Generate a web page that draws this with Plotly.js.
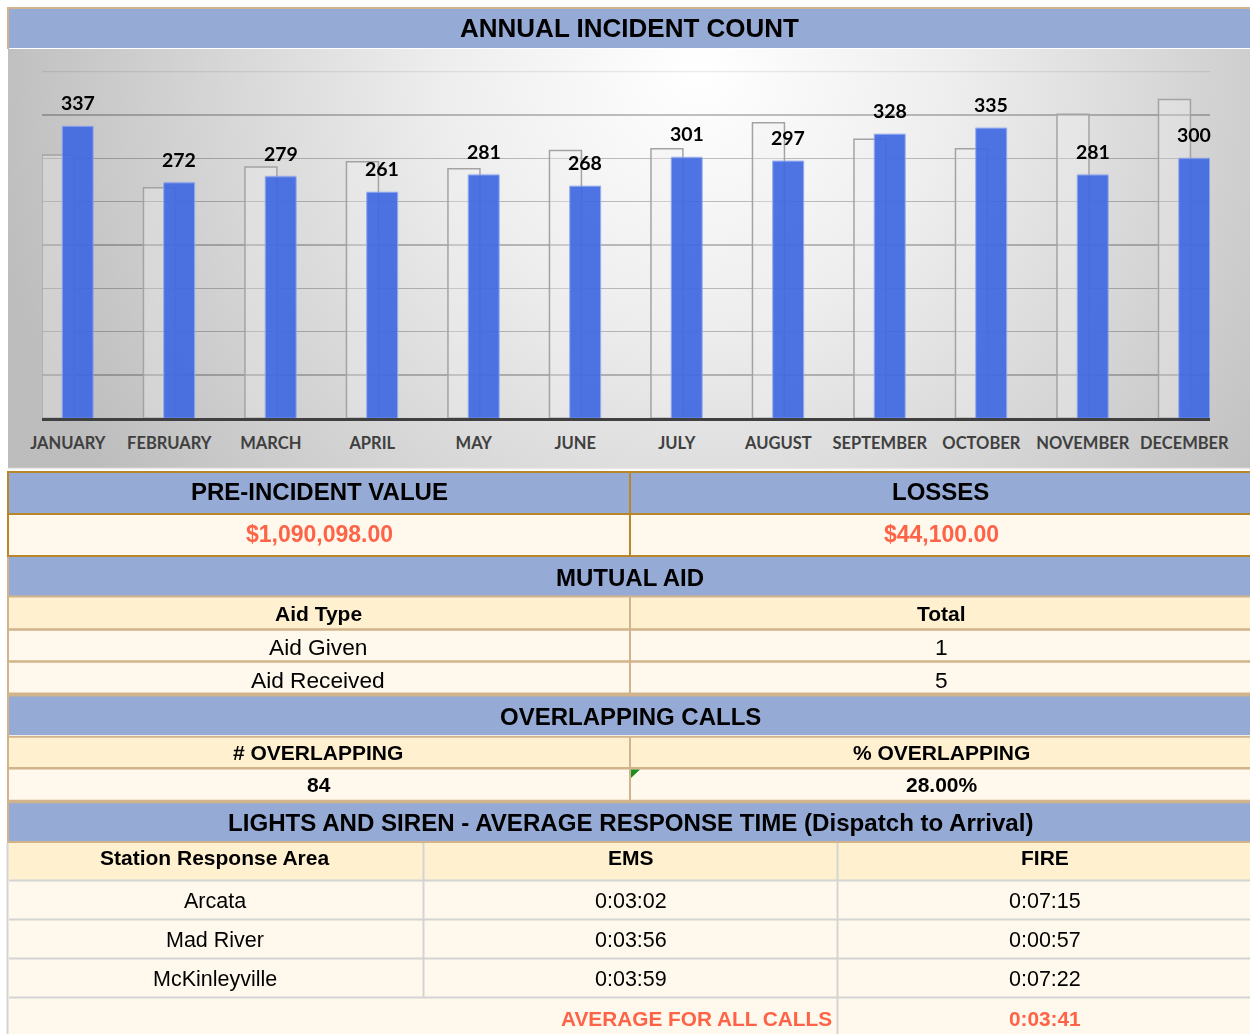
<!DOCTYPE html>
<html>
<head>
<meta charset="utf-8">
<script src="https://cdn.plot.ly/plotly-3.0.1.min.js"></script>
<style>html,body{margin:0;padding:0;background:#fff;}#chart{width:1250px;height:1034px;}</style>
</head>
<body>
<div id="chart"></div>
<script>
// ---------- data ----------
const months = ['JANUARY','FEBRUARY','MARCH','APRIL','MAY','JUNE','JULY','AUGUST','SEPTEMBER','OCTOBER','NOVEMBER','DECEMBER'];
const incidents = [337, 272, 279, 261, 281, 268, 301, 297, 328, 335, 281, 300];
const priorYear = [304, 266, 290, 296, 288, 309, 311, 341, 322, 311, 351, 368];
const chartTitle = 'ANNUAL INCIDENT COUNT';
const valueHeaders = ['PRE-INCIDENT VALUE', 'LOSSES'];
const valueCells = ['$1,090,098.00', '$44,100.00'];
const aidHeaders = ['Aid Type', 'Total'];
const aidTypes = ['Aid Given', 'Aid Received'];
const aidTotals = [1, 5];
const overlapHeaders = ['# OVERLAPPING', '% OVERLAPPING'];
const overlapValues = ['84', '28.00%'];
const responseTitle = 'LIGHTS AND SIREN - AVERAGE RESPONSE TIME (Dispatch to Arrival)';
const responseHeaders = ['Station Response Area', 'EMS', 'FIRE'];
const areas = ['Arcata', 'Mad River', 'McKinleyville'];
const emsTimes = ['0:03:02', '0:03:56', '0:03:59'];
const fireTimes = ['0:07:15', '0:00:57', '0:07:22'];
const averageLabel = 'AVERAGE FOR ALL CALLS';
const averageAll = '0:03:41';

// ---------- helpers (pixel -> paper) ----------
const W = 1250, H = 1034;
const px = x => x / W;
const py = y => 1 - y / H;
const shapes = [];
const annotations = [];
const BLUE = '#95AAD5', HEAD = '#FFF0D0', CREAM = '#FFF8EC', TAN = '#D2B48C',
      GOLD = '#B8862B', GREY = '#D4D4D4', RED = '#FF6347';
const SANS = 'Liberation Sans, Arial, sans-serif';

function rect(x0, y0, x1, y1, fill) {
  shapes.push({type: 'rect', xref: 'paper', yref: 'paper', x0: px(x0), x1: px(x1),
    y0: py(y1), y1: py(y0), fillcolor: fill, line: {width: 0}, layer: 'below'});
}
function hline(x0, x1, y, color, w, layer) {
  shapes.push({type: 'line', xref: 'paper', yref: 'paper', x0: px(x0), x1: px(x1),
    y0: py(y), y1: py(y), line: {color: color, width: w}, layer: layer || 'above'});
}
function vline(x, y0, y1, color, w) {
  shapes.push({type: 'line', xref: 'paper', yref: 'paper', x0: px(x), x1: px(x),
    y0: py(y0), y1: py(y1), line: {color: color, width: w}, layer: 'above'});
}
function txt(x, y, s, size, opts) {
  opts = opts || {};
  annotations.push({xref: 'paper', yref: 'paper', x: px(x), y: py(y), text: String(s),
    showarrow: false, xanchor: opts.anchor || 'center', yanchor: 'middle',
    font: {family: SANS, size: size, color: opts.color || '#000',
           weight: opts.bold ? 700 : 400}});
}

// ---------- title band ----------
rect(9, 9, 1252, 48, BLUE);
hline(7, 1252, 8, TAN, 2);
vline(8, 7, 49, TAN, 2);
txt(629.5, 28, chartTitle, 26, {bold: true});

// ---------- value table ----------
rect(8, 472, 1252, 514, BLUE);
rect(8, 514, 1252, 556, CREAM);
txt(319, 492, valueHeaders[0], 24, {bold: true});
txt(940, 492, valueHeaders[1], 24, {bold: true});
txt(319, 534, valueCells[0], 23, {bold: true, color: RED});
txt(941, 534, valueCells[1], 23, {bold: true, color: RED});
[472, 514, 556].forEach(y => hline(7, 1252, y, GOLD, 2));
vline(8, 471, 557, GOLD, 2);
vline(630, 471, 557, GOLD, 2);

// ---------- mutual aid ----------
rect(8, 557, 1252, 596, BLUE);
rect(8, 597, 1252, 629, HEAD);
rect(8, 629, 1252, 694, CREAM);
txt(630, 577, 'MUTUAL AID', 24, {bold: true});
txt(318.5, 613, aidHeaders[0], 21, {bold: true});
txt(941, 613, aidHeaders[1], 21, {bold: true});
aidTypes.forEach((a, i) => {
  const y = 647 + i * 32.5;
  txt(318, y, a, 22.7);
  txt(941, y, aidTotals[i], 22.7);
});
hline(7, 1252, 596.5, TAN, 2);
hline(7, 1252, 629.5, TAN, 2.5);
hline(7, 1252, 661.5, TAN, 2.5);
hline(7, 1252, 694.6, TAN, 4);
vline(630, 597, 694, TAN, 2);

// ---------- overlapping calls ----------
rect(8, 696, 1252, 735, BLUE);
rect(8, 737, 1252, 768, HEAD);
rect(8, 768, 1252, 801, CREAM);
txt(630, 716, 'OVERLAPPING CALLS', 24, {bold: true});
txt(318, 752, overlapHeaders[0], 21, {bold: true});
txt(941, 752, overlapHeaders[1], 21, {bold: true});
txt(319, 784, overlapValues[0], 21, {bold: true});
txt(942, 784, overlapValues[1], 21, {bold: true});
hline(7, 1252, 736.8, TAN, 2);
hline(7, 1252, 768.3, TAN, 2.5);
hline(7, 1252, 801.4, TAN, 3.5);
vline(630, 737, 800, TAN, 2);
shapes.push({type: 'path', xref: 'paper', yref: 'paper',
  path: 'M' + px(631) + ',' + py(769.5) + ' L' + px(640) + ',' + py(769.5) + ' L' + px(631) + ',' + py(778) + ' Z',
  fillcolor: '#1E8C1E', line: {width: 0}, layer: 'above'});

// ---------- response time ----------
rect(8, 803, 1252, 841, BLUE);
rect(8, 843, 1252, 880, HEAD);
rect(8, 880, 1252, 1034, CREAM);
txt(630, 822, responseTitle, 24.1, {bold: true});
txt(214.5, 857, responseHeaders[0], 21, {bold: true});
txt(630.5, 857, responseHeaders[1], 21, {bold: true});
txt(1045, 857, responseHeaders[2], 21, {bold: true});
areas.forEach((a, i) => {
  const y = 901 + i * 39;
  txt(215, y, a, 21.5);
  txt(630.5, y, emsTimes[i], 21.5);
  txt(1045, y, fireTimes[i], 21.5);
});
txt(834, 1018, averageLabel, 20.8, {bold: true, color: RED, anchor: 'right'});
txt(1044.5, 1018, averageAll, 20.8, {bold: true, color: RED});
hline(7, 1252, 842, TAN, 2);
[880.5, 919.5, 958.5, 997.5].forEach(y => hline(9, 1252, y, GREY, 2));
vline(423.5, 843, 997, GREY, 2);
vline(837.5, 843, 1034, GREY, 2);
vline(8, 557, 843, TAN, 2);
vline(7.5, 843, 1034, GREY, 2);

// ---------- chart background gradient ----------
const svg = "<svg xmlns='http://www.w3.org/2000/svg' width='1244' height='419' viewBox='0 0 1244 419' preserveAspectRatio='none'>" +
  "<defs><radialGradient id='g' gradientUnits='userSpaceOnUse' cx='690' cy='20' r='720'>" +
  "<stop offset='0' stop-color='#ffffff'/><stop offset='0.35' stop-color='#eeeeee'/><stop offset='1' stop-color='#bdbdbd'/></radialGradient></defs>" +
  "<rect width='1244' height='419' fill='url(#g)'/></svg>";
const bgImage = {
  source: 'data:image/svg+xml;charset=utf-8,' + encodeURIComponent(svg),
  xref: 'paper', yref: 'paper', x: px(8), y: py(49), sizex: 1244 / W, sizey: 419 / H,
  xanchor: 'left', yanchor: 'top', sizing: 'stretch', layer: 'below'
};
hline(8, 1252, 468.5, '#E8E8E8', 1.5);
hline(42, 1210, 71.7, 'rgba(0,0,0,0.08)', 1.3, 'below');

// ---------- data labels ----------
months.forEach((m, i) => {
  annotations.push({xref: 'x', yref: 'y', x: m, y: incidents[i], text: String(incidents[i]),
    showarrow: false, xanchor: 'center', yanchor: 'bottom', xshift: 10, yshift: 10,
    font: {family: 'Lato, sans-serif', size: 19.5, color: '#000', weight: 700}});
});

// ---------- traces ----------
const backTrace = {
  type: 'bar', x: months, y: priorYear, name: 'Prior year',
  width: 0.315, offset: -0.2545, cliponaxis: false,
  marker: {color: 'rgba(240,240,240,0.35)', line: {color: '#A3A3A3', width: 1.5}},
  hoverinfo: 'x+y'
};
const frontTrace = {
  type: 'bar', x: months, y: incidents, name: 'Incidents',
  width: 0.305, offset: -0.055, cliponaxis: false, opacity: 0.93,
  marker: {color: '#4169E1', line: {color: '#8FA7EE', width: 1}},
  hoverinfo: 'x+y'
};

const layout = {
  width: W, height: H,
  margin: {l: 0, r: 0, t: 0, b: 0},
  paper_bgcolor: '#ffffff',
  plot_bgcolor: 'rgba(0,0,0,0)',
  showlegend: false,
  barmode: 'overlay',
  xaxis: {
    domain: [px(42), px(1210)], type: 'category', range: [-0.254, 11.253],
    showgrid: false, zeroline: false, showline: true, linecolor: '#404040', linewidth: 3,
    ticks: '', ticklabelstandoff: 8,
    tickfont: {family: 'Lato, sans-serif', size: 16.5, color: '#404040', weight: 700},
    fixedrange: true
  },
  yaxis: {
    domain: [py(418.3), py(71.7)], range: [0, 400], dtick: 50,
    showticklabels: false, ticks: '', zeroline: false, showline: false,
    gridcolor: 'rgba(0,0,0,0.24)', gridwidth: 1.3, fixedrange: true
  },
  images: [bgImage],
  shapes: shapes,
  annotations: annotations
};

Plotly.newPlot('chart', [backTrace, frontTrace], layout, {displayModeBar: false, staticPlot: true});
</script>
</body>
</html>
